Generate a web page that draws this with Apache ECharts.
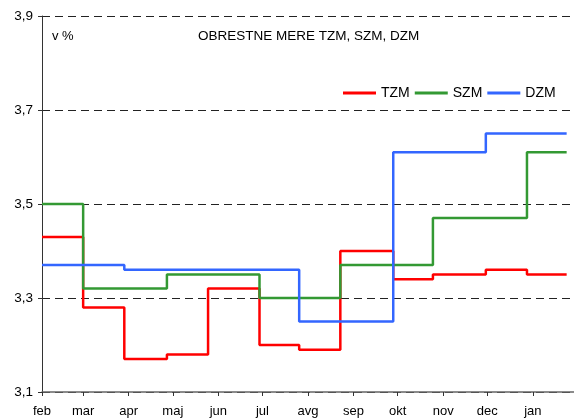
<!DOCTYPE html>
<html>
<head>
<meta charset="utf-8">
<script src="https://cdn.jsdelivr.net/npm/echarts@6/dist/echarts.min.js"></script>
<style>
  html, body { margin: 0; padding: 0; background: #fff; }
  #chart { width: 574px; height: 418px; }
</style>
</head>
<body>
<div id="chart"></div>
<script>
// datumi avkcij (sprememba obrestne mere) in mere v %
const startDate = '2005-02-01';
const endDate = '2006-01-28';
const dates = ['2005-02-01', '2005-03-01', '2005-03-29', '2005-04-27', '2005-05-25', '2005-06-29',
  '2005-07-26', '2005-08-23', '2005-09-28', '2005-10-25', '2005-11-30', '2005-12-28', '2006-01-24'];
const tzm = [3.43, 3.28, 3.17, 3.18, 3.32, 3.20, 3.19, 3.40, 3.34, 3.35, 3.36, 3.35, 3.35];
const szm = [3.50, 3.32, 3.32, 3.35, 3.35, 3.30, 3.30, 3.37, 3.37, 3.47, 3.47, 3.61, 3.61];
const dzm = [3.37, 3.37, 3.36, 3.36, 3.36, 3.36, 3.25, 3.25, 3.61, 3.61, 3.65, 3.65, 3.65];

// oznake mesecev na osi x
const monthStarts = ['2005-02-01', '2005-03-01', '2005-04-01', '2005-05-01', '2005-06-01', '2005-07-01',
  '2005-08-01', '2005-09-01', '2005-10-01', '2005-11-01', '2005-12-01', '2006-01-01'];
const monthNames = ['feb', 'mar', 'apr', 'maj', 'jun', 'jul', 'avg', 'sep', 'okt', 'nov', 'dec', 'jan'];

const yTicks = { min: 3.1, max: 3.9, interval: 0.2 };

// dan od začetka obdobja
function dayOf(d) {
  return Math.round((Date.parse(d) - Date.parse(startDate)) / 86400000);
}

const monthDays = monthStarts.map(dayOf);
const FONT = 'Liberation Sans, Arial, sans-serif';

function toSeries(name, color, values) {
  return {
    name: name,
    type: 'line',
    step: 'end',
    showSymbol: false,
    data: dates.map((d, i) => [dayOf(d), values[i]]),
    lineStyle: { color: color, width: 2.5 },
    itemStyle: { color: color }
  };
}

const chart = echarts.init(document.getElementById('chart'));

chart.setOption({
  backgroundColor: '#fff',
  animation: false,
  title: {
    text: 'OBRESTNE MERE TZM, SZM, DZM',
    left: 193,
    top: 24,
    textStyle: { fontFamily: FONT, fontSize: 13.5, fontWeight: 'normal', color: '#000' }
  },
  graphic: [{
    type: 'text',
    left: 52,
    top: 30,
    style: { text: 'v %', font: '13px ' + FONT, fill: '#000' }
  }],
  legend: {
    left: 343,
    top: 86,
    padding: 0,
    itemWidth: 33,
    itemHeight: 3,
    itemGap: 5,
    icon: 'rect',
    textStyle: { fontFamily: FONT, fontSize: 14, color: '#000' },
    data: ['TZM', 'SZM', 'DZM']
  },
  grid: { left: 42, right: 0, top: 16, bottom: 25 },
  xAxis: {
    type: 'value',
    min: 0,
    max: dayOf(endDate) + 1,
    axisLine: { show: true, lineStyle: { color: '#666', width: 1.5 } },
    axisTick: {
      show: true,
      length: 4,
      customValues: monthDays,
      lineStyle: { color: '#333' }
    },
    axisLabel: {
      customValues: monthDays,
      margin: 13,
      fontFamily: FONT,
      fontSize: 13,
      color: '#000',
      formatter: v => monthNames[monthDays.indexOf(v)] || ''
    },
    splitLine: { show: false }
  },
  yAxis: {
    type: 'value',
    min: yTicks.min,
    max: yTicks.max,
    interval: yTicks.interval,
    axisLine: { show: true, lineStyle: { color: '#333', width: 1 } },
    axisTick: { show: true, length: 4, lineStyle: { color: '#333' } },
    axisLabel: {
      margin: 9,
      fontFamily: FONT,
      fontSize: 13.5,
      color: '#000',
      formatter: v => v.toFixed(1).replace('.', ',')
    },
    splitLine: {
      show: true,
      lineStyle: { color: '#222', type: [8, 5], width: 1 }
    }
  },
  series: [
    toSeries('TZM', '#ff0000', tzm),
    toSeries('SZM', '#339933', szm),
    toSeries('DZM', '#3366ff', dzm)
  ]
});
</script>
</body>
</html>
